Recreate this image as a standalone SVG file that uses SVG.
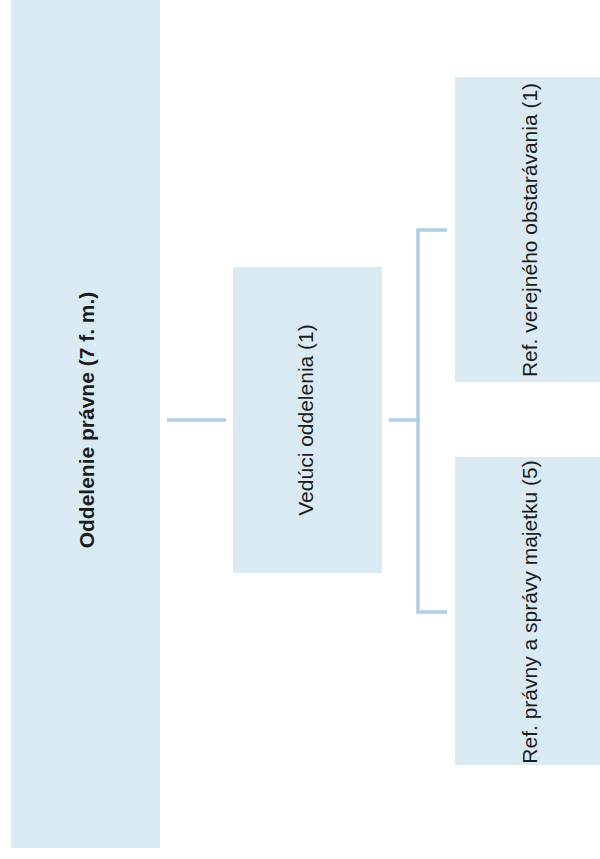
<svg xmlns="http://www.w3.org/2000/svg" width="600" height="859" viewBox="0 0 600 859">
<style>
.box{fill:#d9eaf3}
.lbl{font-family:"Liberation Sans",Arial,sans-serif;font-size:21px;fill:#1c1c1c;text-anchor:middle}
.b{font-weight:bold}
.con{stroke:#b0cde4;stroke-width:3.5;fill:none}
</style>
<rect width="600" height="859" fill="#ffffff"/>
<g id="connectors">
<line class="con" x1="167" y1="420" x2="226" y2="420"/>
<line class="con" x1="389" y1="420" x2="418" y2="420"/>
<polyline class="con" points="447,230 418,230 418,612 447,612"/>
</g>
<g id="node-oddelenie">
<rect class="box" x="11" y="0" width="149" height="848"/>
<text class="lbl b" transform="translate(94,420) rotate(-90)">Oddelenie právne (7 f. m.)</text>
</g>
<g id="node-veduci">
<rect class="box" x="233" y="267" width="149" height="306"/>
<text class="lbl" transform="translate(313,420) rotate(-90)">Vedúci oddelenia (1)</text>
</g>
<g id="node-ref-vo">
<rect class="box" x="455" y="77" width="145" height="305"/>
<text class="lbl" transform="translate(537,230) rotate(-90)">Ref. verejného obstarávania (1)</text>
</g>
<g id="node-ref-pravny">
<rect class="box" x="455" y="457" width="145" height="308"/>
<text class="lbl" transform="translate(537,612) rotate(-90)">Ref. právny a správy majetku (5)</text>
</g>
</svg>
